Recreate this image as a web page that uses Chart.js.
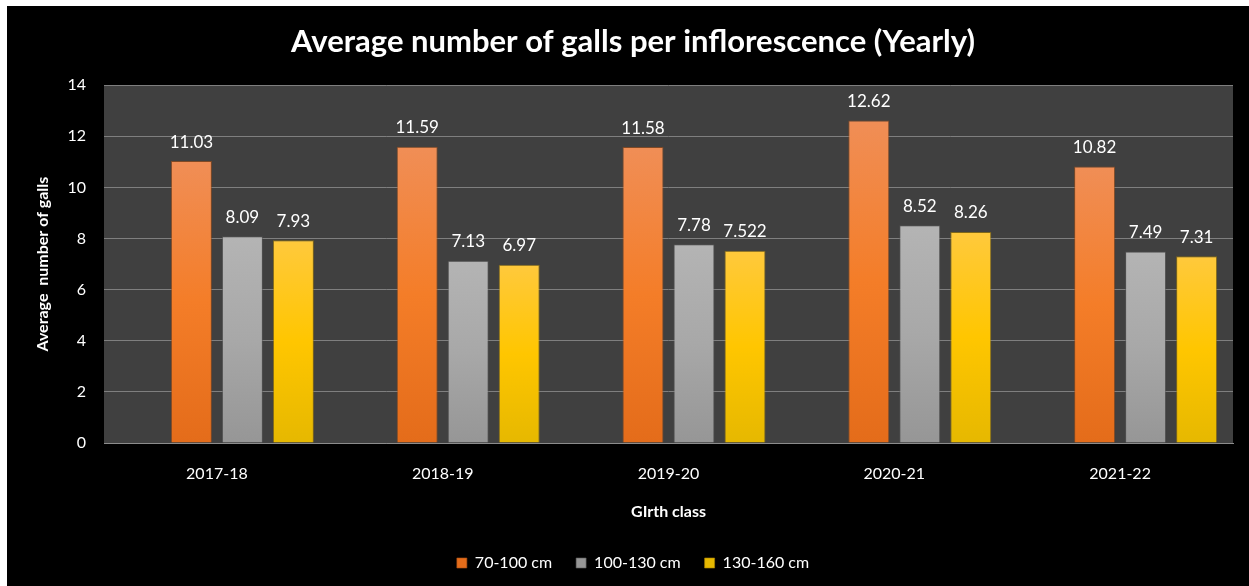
<!DOCTYPE html>
<html>
<head>
<meta charset="utf-8">
<script src="https://cdn.jsdelivr.net/npm/chart.js@4.4.1/dist/chart.umd.min.js"></script>
<style>
  html, body { margin: 0; padding: 0; background: #fff; }
  #wrap { position: absolute; left: 7px; top: 6px; width: 1242px; height: 580px; background: #000; }
</style>
</head>
<body>
<div id="wrap"><canvas id="gallChart" width="1242" height="580"></canvas></div>
<script>
const YEARS = ['2017-18', '2018-19', '2019-20', '2020-21', '2021-22'];
const BLANK = [null, null, null, null, null];          // empty first column of the sheet
const GIRTH_70_100 = [11.03, 11.59, 11.58, 12.62, 10.82];
const GIRTH_100_130 = [8.09, 7.13, 7.78, 8.52, 7.49];
const GIRTH_130_160 = [7.93, 6.97, 7.522, 8.26, 7.31];
const Y_TICKS = [0, 2, 4, 6, 8, 10, 12, 14];

const FONT = 'Lato, "Open Sans", sans-serif';

// vertical gradient for each bar, light at the top
function barFill(topColor, midColor, bottomColor) {
  return ctx => {
    const chart = ctx.chart;
    if (!chart.chartArea || ctx.type !== 'data' || ctx.parsed == null) return bottomColor;
    const y = chart.scales.y;
    const top = y.getPixelForValue(ctx.parsed.y);
    const base = y.getPixelForValue(0);
    const g = chart.ctx.createLinearGradient(0, top, 0, base);
    g.addColorStop(0, topColor);
    g.addColorStop(0.5, midColor);
    g.addColorStop(1, bottomColor);
    return g;
  };
}

const backdrop = {
  id: 'backdrop',
  beforeDraw(chart) {
    const { ctx, chartArea: a } = chart;
    ctx.save();
    ctx.fillStyle = '#000';
    ctx.fillRect(0, 0, chart.width, chart.height);
    ctx.fillStyle = '#404040';
    ctx.fillRect(a.left, a.top, a.right - a.left, a.bottom - a.top);
    ctx.restore();
  }
};

const valueLabels = {
  id: 'valueLabels',
  afterDatasetsDraw(chart) {
    const ctx = chart.ctx;
    ctx.save();
    ctx.fillStyle = '#fff';
    ctx.font = '17px ' + FONT;
    ctx.textAlign = 'center';
    ctx.textBaseline = 'middle';
    chart.data.datasets.forEach((ds, i) => {
      chart.getDatasetMeta(i).data.forEach((bar, j) => {
        const v = ds.data[j];
        if (v == null) return;
        ctx.fillText(String(v), bar.x, bar.y - 19);
      });
    });
    ctx.restore();
  }
};

new Chart(document.getElementById('gallChart'), {
  type: 'bar',
  data: {
    labels: YEARS,
    datasets: [
      { label: '', data: BLANK },
      { label: '70-100 cm', data: GIRTH_70_100, backgroundColor: barFill('#f08e56', '#f47d28', '#e46c1a'), borderColor: 'rgba(170,80,20,0.6)', borderWidth: 1 },
      { label: '100-130 cm', data: GIRTH_100_130, backgroundColor: barFill('#b4b4b4', '#a8a8a8', '#969696'), borderColor: 'rgba(90,90,90,0.6)', borderWidth: 1 },
      { label: '130-160 cm', data: GIRTH_130_160, backgroundColor: barFill('#ffc93c', '#ffc600', '#e6b800'), borderColor: 'rgba(170,130,0,0.6)', borderWidth: 1 }
    ]
  },
  options: {
    responsive: false,
    animation: false,
    categoryPercentage: 0.9035,
    barPercentage: 0.804,
    layout: { padding: { left: 26, right: 16, top: 0, bottom: 5 } },
    plugins: {
      title: {
        display: true,
        text: 'Average number of galls per inflorescence (Yearly)',
        color: '#fff',
        font: { family: FONT, size: 31, weight: 'bold' },
        padding: { top: 17, bottom: 25 }
      },
      legend: {
        position: 'bottom',
        labels: {
          color: '#fff',
          font: { family: FONT, size: 16 },
          boxWidth: 10,
          boxHeight: 10,
          padding: 24,
          filter: item => item.text !== ''
        }
      },
      tooltip: { enabled: false }
    },
    scales: {
      x: {
        grid: { display: false, drawTicks: false },
        border: { display: true, color: '#8c8c8c' },
        ticks: { color: '#fff', font: { family: FONT, size: 16 }, padding: 21 },
        title: { display: true, text: 'GIrth class', color: '#fff', font: { family: FONT, size: 16, weight: 'bold' }, padding: { top: 0, bottom: 10 } },
        afterFit: s => { s.height = 88; }
      },
      y: {
        min: 0,
        max: 14,
        afterBuildTicks: s => { s.ticks = Y_TICKS.map(v => ({ value: v })); },
        grid: { color: '#7f7f7f', drawTicks: false },
        border: { display: false },
        ticks: { color: '#fff', font: { family: FONT, size: 16 }, padding: 18 },
        title: { display: true, text: 'Average  number of galls', color: '#fff', font: { family: FONT, size: 16, weight: 'bold' }, padding: { top: 0, bottom: 0 } },
        afterFit: s => { s.width = 71; }
      }
    }
  },
  plugins: [backdrop, valueLabels]
});
</script>
</body>
</html>
